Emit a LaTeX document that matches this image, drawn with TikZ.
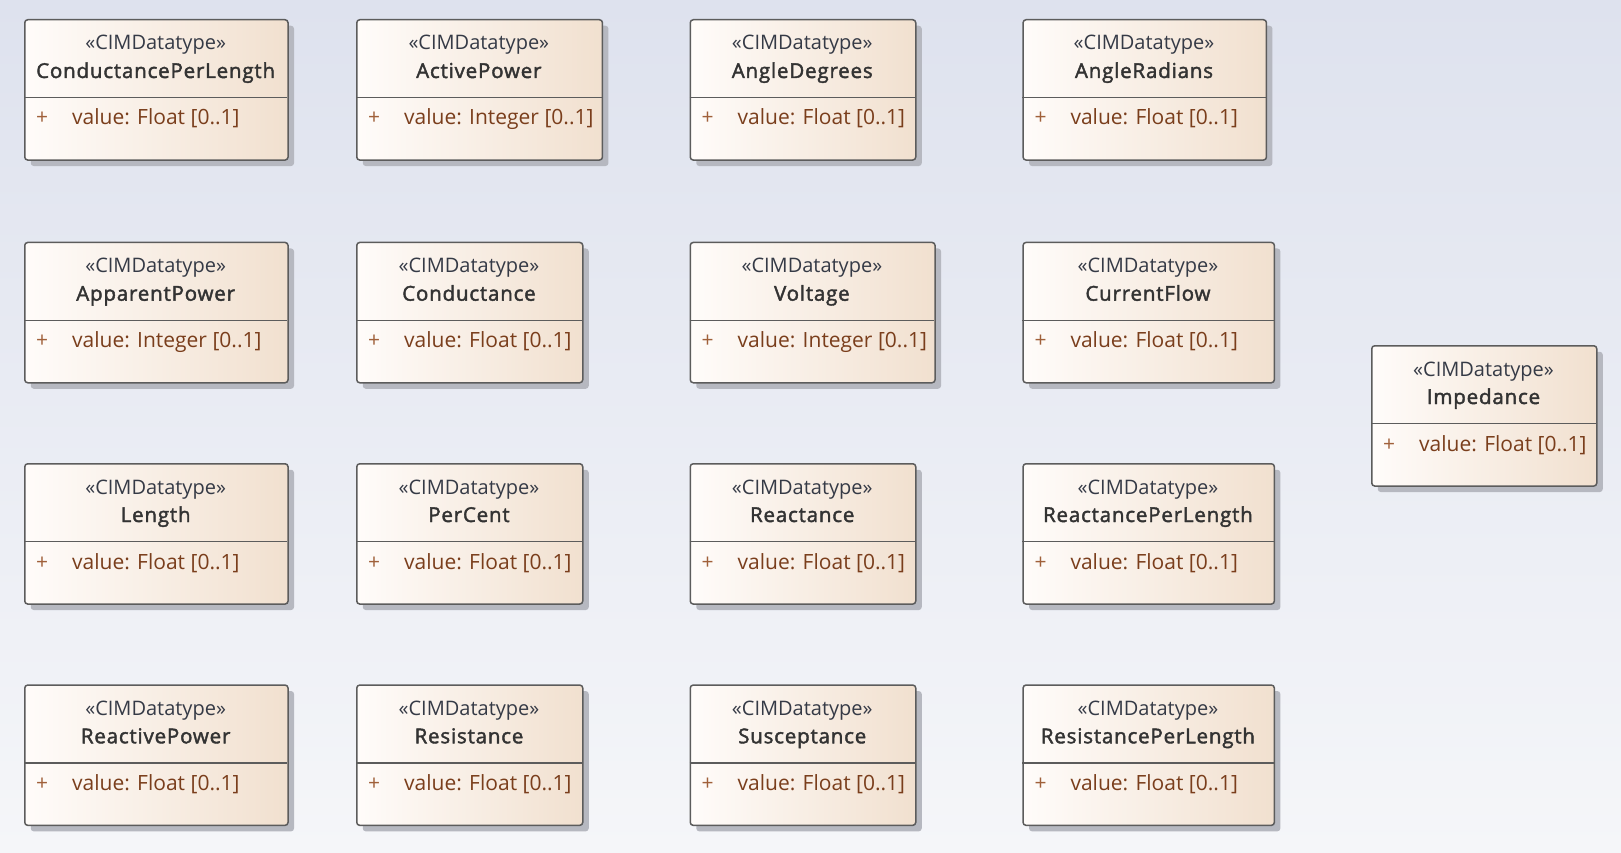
\documentclass[tikz,border=0pt]{standalone}
\usepackage{fontspec}
\setmainfont{Open Sans}
\newfontfamily\namefont[FakeBold=2,LetterSpace=4]{Open Sans}
\usetikzlibrary{shadows}
\definecolor{bgtop}{HTML}{DEE2EE}
\definecolor{bgbot}{HTML}{F5F6F9}
\definecolor{boxl}{HTML}{FFFCFA}
\definecolor{boxr}{HTML}{F1E0CF}
\definecolor{border}{HTML}{5C5C5C}
\definecolor{shadowc}{HTML}{B6B8C0}
\definecolor{stereoc}{HTML}{353A46}
\definecolor{namec}{HTML}{333333}
\definecolor{attrc}{HTML}{7A3E1C}
\definecolor{plusc}{HTML}{A0603A}
\tikzset{
  umlbox/.style={draw=border, line width=1.5pt, rounded corners=3pt,
    left color=boxl, right color=boxr, anchor=north west, inner sep=0pt,
    minimum height=140.3pt,
    drop shadow={shadow xshift=6pt, shadow yshift=-6pt, fill=shadowc, opacity=1}},
  divider/.style={draw=border, line width=1.5pt},
  stereo/.style={anchor=base, inner sep=0pt, text=stereoc, font=\fontsize{20}{22}\selectfont},
  clsname/.style={anchor=base, inner sep=0pt, text=namec, font=\namefont\fontsize{20.5}{22}\selectfont},
  plus/.style={anchor=base west, inner sep=0pt, text=plusc, font=\fontsize{21}{22}\selectfont},
  attr/.style={anchor=base west, inner sep=0pt, text=attrc, font=\fontsize{21}{22}\selectfont}
}
\newcommand\cimbox[5]{%
  \node[umlbox, minimum width={#3-#2}] (#1) at (#2,#4) {};
  \coordinate (#1-dl) at (#2,#4+78.7);
  \coordinate (#1-dr) at (#3,#4+78.7);
  \draw[divider] (#1-dl) -- (#1-dr);
  \node[stereo] (#1-st) at ({(#2+#3)/2},#4+31) {«CIMDatatype»};
  \node[clsname] (#1-nm) at ({(#2+#3)/2},#4+59) {#1};
  \node[plus] (#1-pl) at (#2+12,#4+106) {+};
  \node[attr] (#1-at) at (#2+48,#4+106) {value: #5 [0..1]};
}
\begin{document}
\begin{tikzpicture}[x=1pt,y=-1pt]
\useasboundingbox (0,0) rectangle (1621,853);
\shade[top color=bgtop, bottom color=bgbot] (0,0) rectangle (1621,853);
% row 1
\cimbox{ConductancePerLength}{24}{287.3}{19}{Float}
\cimbox{ActivePower}{356}{601.7}{19}{Integer}
\cimbox{AngleDegrees}{689.5}{915}{19}{Float}
\cimbox{AngleRadians}{1022.3}{1265.7}{19}{Float}
% row 2
\cimbox{ApparentPower}{24}{287.3}{241.7}{Integer}
\cimbox{Conductance}{356}{582}{241.7}{Float}
\cimbox{Voltage}{689.5}{934.3}{241.7}{Integer}
\cimbox{CurrentFlow}{1022.3}{1273.6}{241.7}{Float}
% row 3
\cimbox{Length}{24}{287.3}{463}{Float}
\cimbox{PerCent}{356}{582}{463}{Float}
\cimbox{Reactance}{689.5}{915}{463}{Float}
\cimbox{ReactancePerLength}{1022.3}{1273.6}{463}{Float}
% row 4
\cimbox{ReactivePower}{24}{287.3}{684.3}{Float}
\cimbox{Resistance}{356}{582}{684.3}{Float}
\cimbox{Susceptance}{689.5}{915}{684.3}{Float}
\cimbox{ResistancePerLength}{1022.3}{1273.6}{684.3}{Float}
% right
\cimbox{Impedance}{1371}{1596}{345}{Float}
\end{tikzpicture}
\end{document}
